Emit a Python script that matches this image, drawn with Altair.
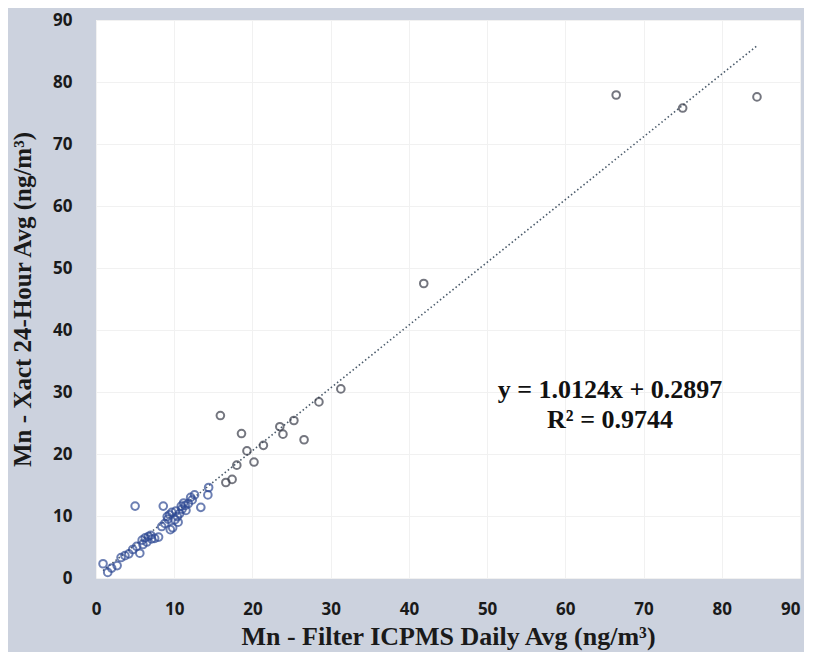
import altair as alt
import pandas as pd

# Scatter data (ng/m3)
filter_icpms = [0.9, 1.5, 2.0, 2.7, 3.2, 3.7, 4.2, 4.7, 5.2, 5.6, 5.9, 6.3, 6.7, 7.1, 7.5, 6.0,
                5.0, 8.6, 8.4, 8.8, 9.2, 9.5, 9.8, 10.1, 10.4, 10.5, 10.7, 11.0, 11.4, 11.8,
                12.3, 12.1, 9.1, 9.7, 10.9, 11.5, 12.6, 13.4, 14.3, 14.4, 15.9, 16.6, 17.4,
                18.0, 18.6, 19.3, 20.2, 21.4, 23.5, 23.9, 25.3, 26.6, 28.5, 31.3, 41.9, 66.5,
                75.0, 84.5, 7.0, 8.0, 10.2, 9.4, 11.2, 6.5]
xact_24h = [2.3, 0.9, 1.6, 2.0, 3.3, 3.6, 3.9, 4.6, 5.1, 4.0, 6.1, 6.5, 6.7, 6.3, 6.4, 5.4,
            11.6, 11.6, 8.3, 8.8, 9.5, 7.8, 8.1, 9.4, 9.9, 9.0, 10.4, 11.1, 11.7, 12.0,
            12.6, 13.0, 9.9, 10.6, 11.6, 10.9, 13.4, 11.4, 13.4, 14.6, 26.2, 15.4, 15.9,
            18.2, 23.3, 20.5, 18.7, 21.4, 24.4, 23.2, 25.4, 22.3, 28.4, 30.5, 47.5, 77.9,
            75.8, 77.6, 6.9, 6.6, 10.8, 10.2, 12.1, 5.8]

# Linear trendline reported on the chart
slope = 1.0124
intercept = 0.2897
r_squared = 0.9744
trend_x = [min(filter_icpms), max(filter_icpms)]

axis_ticks = [0, 10, 20, 30, 40, 50, 60, 70, 80, 90]
x_title = "Mn - Filter ICPMS Daily Avg (ng/m³)"
y_title = "Mn - Xact 24-Hour Avg (ng/m³)"
eq_lines = [f"y = {slope}x + {intercept}", f"R² = {r_squared}"]

pts = pd.DataFrame({"x": filter_icpms, "y": xact_24h})
trend = pd.DataFrame({"x": trend_x})

xscale = alt.Scale(domain=[0, 90], nice=False, zero=False)
yscale = alt.Scale(domain=[0, 90], nice=False, zero=False)

label_font = "Open Sans"
title_font = "Liberation Serif"

xaxis = alt.Axis(values=axis_ticks, title=x_title, domain=False, ticks=False,
                 labelFont=label_font, labelFontWeight="bold", labelFontSize=17,
                 labelColor="#1a1a1a", labelPadding=23,
                 labelAlign=alt.ExprRef("datum.value == 90 ? 'right' : 'center'"),
                 titleFont=title_font, titleFontWeight="bold", titleFontSize=26,
                 titleColor="#1a1a1a", titlePadding=6,
                 grid=True, gridColor="#f1f1f1", labelFlush=False)
yaxis = alt.Axis(values=axis_ticks, title=y_title, domain=False, ticks=False,
                 labelFont=label_font, labelFontWeight="bold", labelFontSize=17,
                 labelColor="#1a1a1a", labelPadding=24,
                 titleFont=title_font, titleFontWeight="bold", titleFontSize=25,
                 titleColor="#1a1a1a", titlePadding=17,
                 grid=True, gridColor="#f1f1f1", labelFlush=False)

points = alt.Chart(pts).mark_point(shape="circle", filled=False, size=58, strokeWidth=2).encode(
    x=alt.X("x:Q", scale=xscale, axis=xaxis),
    y=alt.Y("y:Q", scale=yscale, axis=yaxis),
    color=alt.condition(alt.datum.x < 15, alt.value("#2f4a94"), alt.value("#3a3d4a")),
)

line = alt.Chart(trend).transform_calculate(
    y=f"{slope} * datum.x + {intercept}"
).mark_line(color="#4a5a6a", strokeWidth=1.6, strokeDash=[1.5, 2.5]).encode(
    x=alt.X("x:Q", scale=xscale, axis=xaxis),
    y=alt.Y("y:Q", scale=yscale, axis=yaxis),
)

text_style = dict(font=title_font, fontWeight="bold", fontSize=26, color="#111111",
                  align="center", baseline="middle")
text1 = alt.Chart(pd.DataFrame({"t": [eq_lines[0]]})).mark_text(**text_style).encode(
    text="t:N", x=alt.value(514), y=alt.value(370))
text2 = alt.Chart(pd.DataFrame({"t": [eq_lines[1]]})).mark_text(**text_style).encode(
    text="t:N", x=alt.value(514), y=alt.value(400))

chart = alt.layer(line, points, text1, text2).properties(
    width=704, height=558,
    autosize=alt.AutoSizeParams(type="none"),
    padding={"left": 88, "top": 12, "right": 4, "bottom": 74},
    background="#ccd2de",
).configure_view(fill="white", stroke=None)

chart.save("out.html", embed_options={"renderer": "svg", "actions": False})
